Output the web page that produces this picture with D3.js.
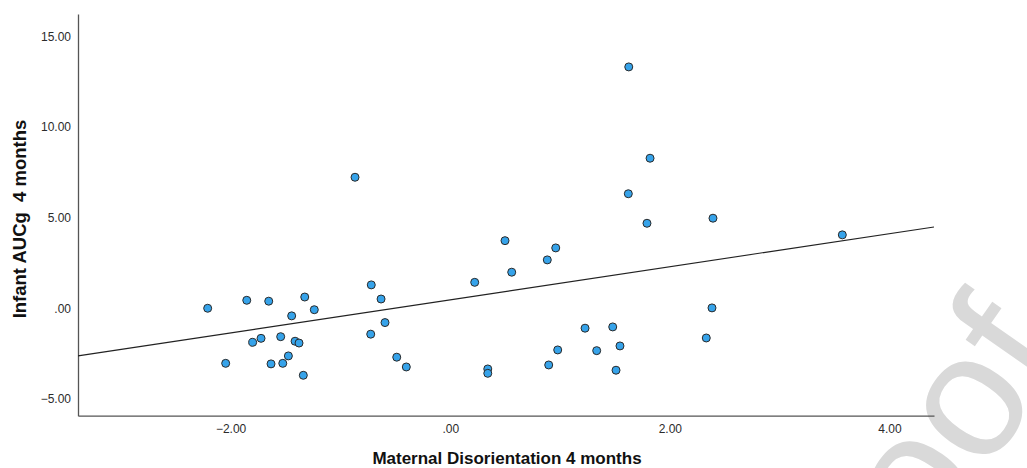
<!DOCTYPE html>
<html>
<head>
<meta charset="utf-8">
<script src="https://cdn.jsdelivr.net/npm/d3@7"></script>
<style>
  html, body { margin: 0; padding: 0; background: #fff; }
  svg { display: block; }
  text { font-family: "Liberation Sans", Arial, sans-serif; }
</style>
</head>
<body>
<svg id="chart" width="1027" height="468"></svg>
<script>
// Maternal disorientation (x) vs infant cortisol AUCg (y) at 4 months
const disorientation = [
  1.626, 1.820, 1.622, 1.792, 2.393, 3.571, 0.499, 0.961, 0.884, 0.560,
  0.223, -0.867, -2.209, -1.853, -1.653, -1.325, -1.238, -1.444, -0.719, -0.630,
  -0.594, -0.724, -1.799, -1.723, -1.544, -1.413, -1.377, -1.474, -2.045, -1.632,
  -1.525, -1.338, -0.487, -0.400, 2.384, 1.228, 1.480, 1.546, 1.334, 0.979,
  2.332, 0.897, 1.510, 0.342, 0.342
];
const aucg = [
  13.32, 8.28, 6.32, 4.69, 4.97, 4.05, 3.73, 3.33, 2.67, 1.99,
  1.43, 7.23, 0.00, 0.44, 0.39, 0.62, -0.08, -0.42, 1.29, 0.51,
  -0.79, -1.43, -1.88, -1.66, -1.57, -1.82, -1.92, -2.63, -3.04, -3.07,
  -3.04, -3.70, -2.70, -3.24, 0.02, -1.10, -1.03, -2.08, -2.34, -2.30,
  -1.64, -3.13, -3.42, -3.35, -3.59
];

// Axis extents and tick values
const xDomain = [-3.39, 4.406];
const yDomain = [-5.93, 16.24];
const xTicks = [-2, 0, 2, 4];
const yTicks = [-5, 0, 5, 10, 15];

// Linear fit (total) coefficients
const fitIntercept = 0.465;
const fitSlope = 0.913;

const xTitle = "Maternal Disorientation 4 months";
const yTitle = "Infant AUCg\u00a0 4 months";

const svg = d3.select("#chart");
const plotLeft = 78, plotRight = 934, plotTop = 14, plotBottom = 415.7;

const x = d3.scaleLinear().domain(xDomain).range([plotLeft, plotRight]);
const y = d3.scaleLinear().domain(yDomain).range([plotBottom, plotTop]);

// Two-decimal labels without the leading zero
const fmt = v => d3.format(".2f")(v).replace(/^(-?)0\./, "$1.");

// Watermark behind the plot
svg.append("text")
  .attr("transform", "translate(1068,355) rotate(-55)")
  .attr("text-anchor", "end")
  .attr("font-size", 175)
  .attr("fill", "#d9d9d9")
  .text("Journal Pre-proof");

// Axes
const xAxis = svg.append("g")
  .attr("transform", `translate(0,${plotBottom})`)
  .call(d3.axisBottom(x).tickValues(xTicks).tickFormat(fmt).tickSize(0).tickPadding(9));
const yAxis = svg.append("g")
  .attr("transform", `translate(${plotLeft},0)`)
  .call(d3.axisLeft(y).tickValues(yTicks).tickFormat(fmt).tickSize(0).tickPadding(7));

[xAxis, yAxis].forEach(g => {
  g.select(".domain").attr("stroke", "#555").attr("stroke-width", 1.3);
  g.selectAll("text")
    .attr("font-family", "Liberation Sans, Arial, sans-serif")
    .attr("font-size", 12)
    .attr("fill", "#2b2b2b");
});

// Fit line across the x range
svg.append("line")
  .attr("x1", x(xDomain[0])).attr("y1", y(fitIntercept + fitSlope * xDomain[0]))
  .attr("x2", x(xDomain[1])).attr("y2", y(fitIntercept + fitSlope * xDomain[1]))
  .attr("stroke", "#222").attr("stroke-width", 1.1);

// Points
svg.append("g").selectAll("circle")
  .data(disorientation.map((d, i) => [d, aucg[i]]))
  .join("circle")
  .attr("cx", d => x(d[0]))
  .attr("cy", d => y(d[1]))
  .attr("r", 4)
  .attr("fill", "#36a3ea")
  .attr("stroke", "#2a2a2a")
  .attr("stroke-width", 1);

// Axis titles
svg.append("text")
  .attr("x", 507).attr("y", 464)
  .attr("text-anchor", "middle")
  .attr("font-size", 17).attr("font-weight", "bold").attr("fill", "#111")
  .text(xTitle);

svg.append("text")
  .attr("transform", "translate(26,219) rotate(-90)")
  .attr("text-anchor", "middle")
  .attr("font-size", 18.5).attr("font-weight", "bold").attr("fill", "#111")
  .style("white-space", "pre")
  .text(yTitle);
</script>
</body>
</html>
